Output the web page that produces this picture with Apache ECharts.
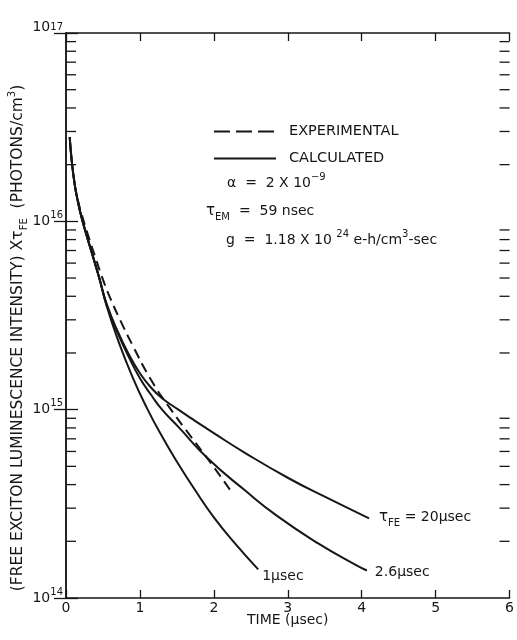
<!DOCTYPE html>
<html>
<head>
<meta charset="utf-8">
<title>Free exciton luminescence decay</title>
<script src="https://cdn.jsdelivr.net/npm/echarts@6/dist/echarts.min.js"></script>
<style>
  html, body { margin: 0; padding: 0; background: #fff; }
  #chart { width: 517px; height: 640px; }
</style>
</head>
<body>
<div id="chart"></div>
<script>
// time in usec, intensity x tauFE in photons/cm3
const headT = [0.05, 0.08, 0.12, 0.16, 0.21, 0.30, 0.35, 0.45]
const headV = [2.8e16, 2.05e16, 1.55e16, 1.28e16, 1.05e16, 7.9e15, 6.8e15, 5.0e15]

const tau1T = [0.55, 0.70, 0.90, 1.10, 1.30, 1.50, 1.75, 2.00, 2.30, 2.60]
const tau1V = [3.55e15, 2.36e15, 1.49e15, 1.01e15, 7.2e14, 5.3e14, 3.72e14, 2.68e14, 1.92e14, 1.42e14]

const tau26T = [0.55, 0.70, 0.85, 1.00, 1.15, 1.30, 1.52, 1.92, 2.42, 2.86, 3.40, 3.93, 4.07]
const tau26V = [3.6e15, 2.55e15, 1.9e15, 1.47e15, 1.2e15, 1.0e15, 8.1e14, 5.5e14, 3.73e14, 2.72e14, 1.96e14, 1.49e14, 1.4e14]

const tau20T = [0.55, 0.70, 0.85, 1.00, 1.15, 1.30, 1.52, 1.75, 2.00, 2.42, 3.00, 3.50, 4.10]
const tau20V = [3.65e15, 2.6e15, 1.97e15, 1.56e15, 1.31e15, 1.15e15, 1.0e15, 8.7e14, 7.5e14, 5.9e14, 4.35e14, 3.45e14, 2.65e14]

const expT = [0.16, 0.20, 0.30, 0.40, 0.50, 0.60, 0.74, 0.90, 1.15, 1.42, 1.69, 1.96, 2.23]
const expV = [1.3e16, 1.13e16, 8.4e15, 6.4e15, 4.9e15, 3.9e15, 2.95e15, 2.2e15, 1.44e15, 1.0e15, 7.2e14, 5.2e14, 3.7e14]

const xTicks = [0, 1, 2, 3, 4, 5, 6]
const yDecades = [14, 15, 16, 17]

const ink = '#161616'
const font = 'DejaVu Sans'

function pairs(ts, vs) {
  return ts.map((t, i) => [t, vs[i]])
}
function calc(ts, vs) {
  return pairs(headT, headV).concat(pairs(ts, vs))
}

// 2..9 x 10^n between the decades, drawn as inner ticks on both sides
const minorTicks = []
for (let d = yDecades[0]; d < yDecades[yDecades.length - 1]; d++) {
  for (let m = 2; m <= 9; m++) minorTicks.push([xTicks[0], m * Math.pow(10, d)])
}

const xMin = xTicks[0]
const xMax = xTicks[xTicks.length - 1]
const yMin = Math.pow(10, yDecades[0])
const yMax = Math.pow(10, yDecades[yDecades.length - 1])

const sub = { fontSize: 10, fontFamily: font, verticalAlign: 'bottom', color: ink, fill: ink }
const sup = { fontSize: 10, fontFamily: font, verticalAlign: 'top', color: ink, fill: ink }
const norm = { fontSize: 14, fontFamily: font, lineHeight: 22, color: ink, fill: ink }
const tau = { fontSize: 15, fontFamily: font, lineHeight: 22, color: ink, fill: ink }
const richText = { n: norm, t: tau, sub: sub, sup: sup }
const titleRich = {
  n: Object.assign({}, norm, { fontSize: 15.5 }),
  t: Object.assign({}, tau, { fontSize: 16 }),
  sub: sub,
  sup: sup
}

function note(x, y, text, rotation, rich) {
  return {
    type: 'text',
    x: x,
    y: y,
    rotation: rotation || 0,
    style: {
      text: text,
      rich: rich || richText,
      fill: ink,
      align: rotation ? 'center' : 'left',
      verticalAlign: 'middle',
      textAlign: rotation ? 'center' : 'left',
      textVerticalAlign: 'middle'
    }
  }
}

function solid(data, label, dist, off) {
  return {
    name: 'CALCULATED',
    type: 'line',
    data: data,
    symbol: 'none',
    smooth: true,
    itemStyle: { color: ink },
    lineStyle: { color: ink, width: 2 },
    endLabel: {
      show: true,
      formatter: label,
      distance: dist,
      offset: off,
      rich: richText
    }
  }
}

const chart = echarts.init(document.getElementById('chart'))
chart.setOption({
  animation: false,
  backgroundColor: '#fff',
  grid: { left: 66, right: 3, top: 33, bottom: 42 },
  legend: {
    left: 213,
    top: 124,
    orient: 'vertical',
    padding: 0,
    itemWidth: 62,
    itemHeight: 14,
    itemGap: 12,
    selectedMode: false,
    itemStyle: { opacity: 0 },
    textStyle: { color: ink, fontSize: 14.5, fontFamily: font, padding: [0, 0, 0, 8] },
    data: [
      { name: 'EXPERIMENTAL', lineStyle: { type: [16, 6], width: 2, color: ink } },
      { name: 'CALCULATED', lineStyle: { width: 2, color: ink } }
    ]
  },
  xAxis: [
    {
      type: 'value',
      min: xMin,
      max: xMax,
      interval: 1,
      name: 'TIME (μsec)',
      nameLocation: 'middle',
      nameGap: 15,
      nameMoveOverlap: false,
      nameTextStyle: { color: ink, fontSize: 14, fontFamily: font, verticalAlign: 'top' },
      axisLine: { lineStyle: { color: ink, width: 1.5 } },
      axisTick: { inside: true, length: 8, lineStyle: { color: ink, width: 1.3 } },
      axisLabel: { color: ink, fontSize: 14, fontFamily: font, margin: 3 },
      splitLine: { show: false }
    },
    {
      type: 'value',
      position: 'top',
      min: xMin,
      max: xMax,
      interval: 1,
      axisLine: { lineStyle: { color: ink, width: 1.5 } },
      axisTick: { inside: true, length: 8, lineStyle: { color: ink, width: 1.3 } },
      axisLabel: { show: false },
      splitLine: { show: false }
    }
  ],
  yAxis: [
    {
      type: 'log',
      logBase: 10,
      min: yMin,
      max: yMax,
      axisLine: { show: true, lineStyle: { color: ink, width: 1.5 } },
      axisTick: { inside: true, length: 12, lineStyle: { color: ink, width: 1.3 } },
      axisLabel: {
        margin: 3,
        formatter: v => {
          const e = Math.round(Math.log10(v))
          return e === yDecades[yDecades.length - 1] ? '{bt|10}{st|' + e + '}' : '{b|10}{s|' + e + '}'
        },
        rich: {
          b: { fontSize: 14, fontFamily: font, lineHeight: 22, color: ink },
          s: { fontSize: 10, fontFamily: font, verticalAlign: 'top', color: ink },
          bt: { fontSize: 14, fontFamily: font, lineHeight: 22, color: ink, padding: [0, 0, 12, 0] },
          st: { fontSize: 10, fontFamily: font, verticalAlign: 'top', color: ink }
        }
      },
      splitLine: { show: false }
    },
    {
      type: 'log',
      logBase: 10,
      position: 'right',
      min: yMin,
      max: yMax,
      axisLine: { show: true, lineStyle: { color: ink, width: 1.5 } },
      axisTick: { inside: true, length: 12, lineStyle: { color: ink, width: 1.3 } },
      axisLabel: { show: false },
      splitLine: { show: false }
    }
  ],
  graphic: [
    note(18, 338, '{n|(FREE EXCITON LUMINESCENCE INTENSITY) X}{t|τ}{sub|FE}{n|  (PHOTONS/cm}{sup|3}{n|)}', Math.PI / 2, titleRich),
    note(227, 183, '{n|α  =  2 X 10}{sup|−9}'),
    note(206, 211, '{t|τ}{sub|EM}{n|  =  59 nsec}'),
    note(226, 240, '{n|g  =  1.18 X 10 }{sup|24}{n| e-h/cm}{sup|3}{n|-sec}')
  ],
  series: [
    {
      name: 'EXPERIMENTAL',
      type: 'line',
      data: pairs(expT, expV),
      symbol: 'none',
      smooth: true,
      itemStyle: { color: ink },
      lineStyle: { color: ink, width: 2, type: [10, 6] }
    },
    solid(calc(tau1T, tau1V), '{n|1μsec}', 4, [0, 7]),
    solid(calc(tau26T, tau26V), '{n|2.6μsec}', 8, [0, 2]),
    solid(calc(tau20T, tau20V), '{t|τ}{sub|FE}{n| = 20μsec}', 10, [0, -1]),
    {
      name: 'minor',
      type: 'custom',
      clip: false,
      silent: true,
      data: minorTicks,
      renderItem: (params, api) => {
        const y = api.value(1)
        const a = api.coord([xMin, y])
        const b = api.coord([xMax, y])
        const st = { stroke: ink, lineWidth: 1.3 }
        return {
          type: 'group',
          children: [
            { type: 'line', shape: { x1: a[0], y1: a[1], x2: a[0] + 10, y2: a[1] }, style: st },
            { type: 'line', shape: { x1: b[0] - 10, y1: b[1], x2: b[0], y2: b[1] }, style: st }
          ]
        }
      }
    }
  ]
})
</script>
</body>
</html>
